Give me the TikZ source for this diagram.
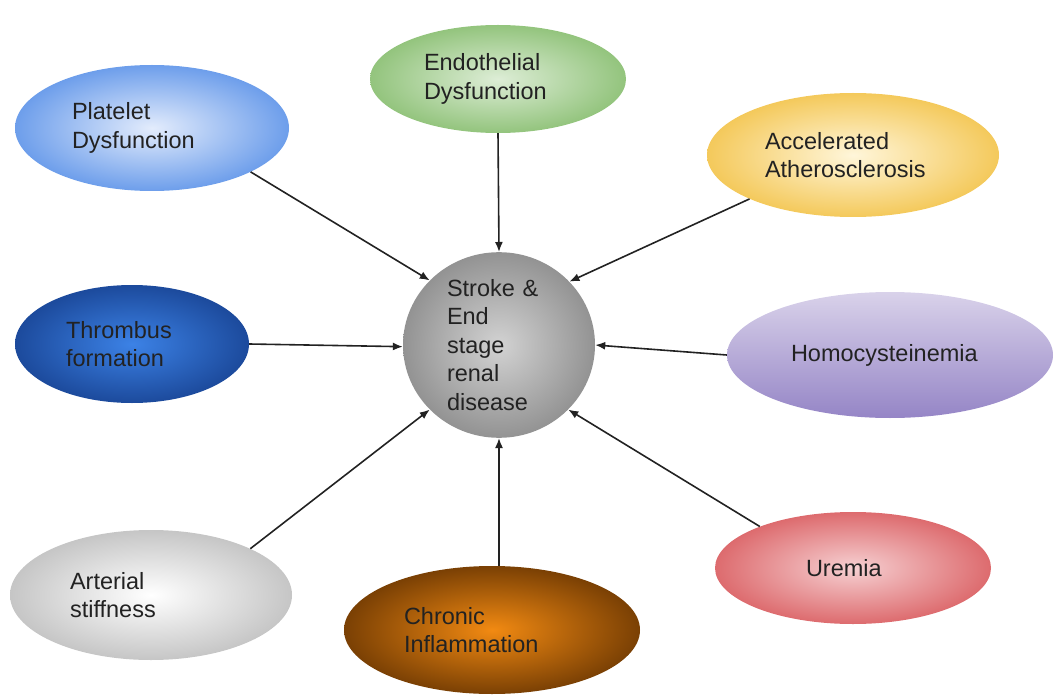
\documentclass[tikz,border=0pt]{standalone}
\usepackage{fontspec}
\setmainfont{Liberation Sans}
\usetikzlibrary{arrows.meta,shapes.geometric}
\definecolor{txt}{HTML}{222222}
\definecolor{lnk}{HTML}{222222}
\begin{document}
\begin{tikzpicture} [x=1pt, y=-1pt,
  blob/.style={ellipse, inner sep=0pt, text=txt, align=left,
    font=\fontsize{23.5}{28.5}\selectfont},
  arr/.style={lnk, line width=1.6pt, -{Latex[length=10pt,width=8pt]}}]
\useasboundingbox (0,0) rectangle (1063,695);

% centre
\node[blob, minimum width=192, minimum height=176, text width=104,
  inner color=gray!35, outer color=gray!85] (ctr) at (499,345)
  {Stroke \&\\End\\stage\\renal\\disease};

% causes round the centre
\node[blob, minimum width=274, minimum height=126, text width=160,
  inner color={rgb,255:red,227;green,236;blue,252}, outer color={rgb,255:red,109;green,158;blue,235}]
  (plt) at (152,128) {Platelet\\Dysfunction};
\node[blob, minimum width=256, minimum height=108, text width=148,
  inner color={rgb,255:red,221;green,237;blue,214}, outer color={rgb,255:red,147;green,196;blue,125}]
  (edf) at (498,79) {Endothelial\\Dysfunction};
\node[blob, minimum width=292, minimum height=124, text width=176,
  inner color={rgb,255:red,255;green,246;blue,218}, outer color={rgb,255:red,244;green,201;blue,91}]
  (acc) at (853,155) {Accelerated\\Atherosclerosis};
\node[blob, minimum width=234, minimum height=118, text width=132,
  inner color={rgb,255:red,60;green,130;blue,230}, outer color={rgb,255:red,28;green,74;blue,156}]
  (thr) at (132,344) {Thrombus\\formation};
\node[blob, minimum width=326, minimum height=126, text width=198,
  top color={rgb,255:red,217;green,210;blue,234}, bottom color={rgb,255:red,149;green,133;blue,198}]
  (hom) at (890,355) {Homocysteinemia};
\node[blob, minimum width=282, minimum height=130, text width=162,
  inner color=white, outer color=gray!45]
  (art) at (151,595) {Arterial\\stiffness};
\node[blob, minimum width=296, minimum height=128, text width=176,
  inner color={rgb,255:red,242;green,138;blue,18}, outer color={rgb,255:red,122;green,64;blue,4}]
  (chr) at (492,630) {Chronic\\Inflammation};
\node[blob, minimum width=276, minimum height=112, text width=94,
  inner color={rgb,255:red,246;green,208;blue,210}, outer color={rgb,255:red,221;green,107;blue,110}]
  (ure) at (853,568) {Uremia};

% arrows into the centre
\foreach \src/\a/\b in {plt/336/137, edf/270/90, acc/203/42, thr/0/181,
  hom/180/0, art/25/223, ure/156/317}
  \draw[arr] (\src.\a) -- (ctr.\b);
\draw[arr] (chr.north -| ctr) -- (ctr.south); % straight up
\end{tikzpicture}
\end{document}
